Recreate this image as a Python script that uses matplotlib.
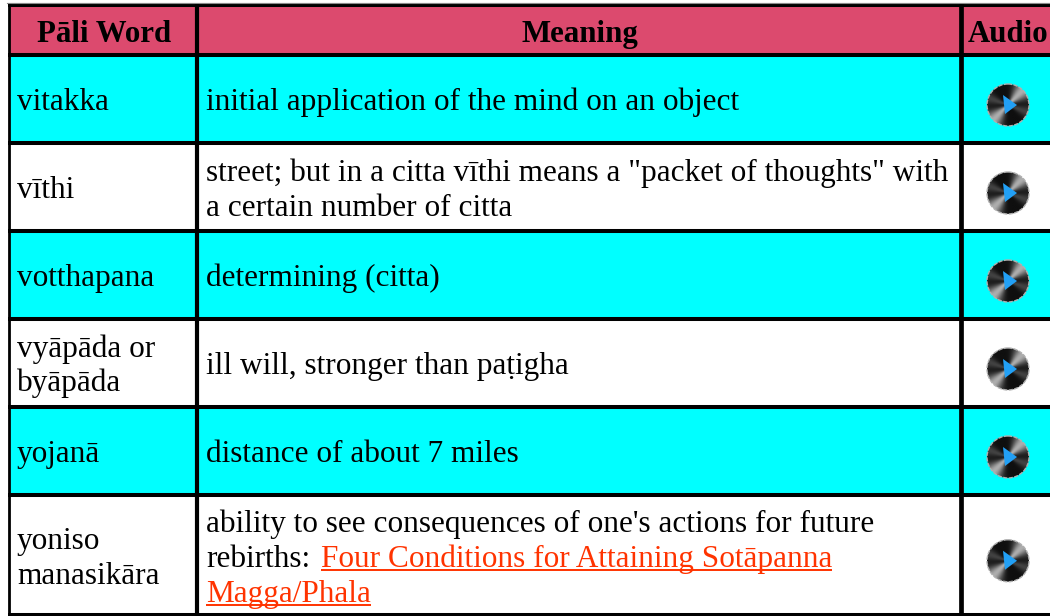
"""Pali glossary table, drawn in pixel coordinates."""

import numpy as np
import matplotlib
matplotlib.use('Agg')
import matplotlib.pyplot as plt
from matplotlib.patches import Rectangle, Circle, Polygon

plt.rcParams['font.family'] = ['Liberation Serif', 'DejaVu Serif']

headers = ['Pāli Word', 'Meaning', 'Audio']
words = [
    ['vitakka'],
    ['vīthi'],
    ['votthapana'],
    ['vyāpāda or', 'byāpāda'],
    ['yojanā'],
    ['yoniso', 'manasikāra'],
]
meanings = [
    ['initial application of the mind on an object'],
    ['street; but in a citta vīthi means a "packet of thoughts" with',
     'a certain number of citta'],
    ['determining (citta)'],
    ['ill will, stronger than paṭigha'],
    ['distance of about 7 miles'],
    ["ability to see consequences of one's actions for future"],
]
link_prefix = 'rebirths:'
link_lines = ['Four Conditions for Attaining Sotāpanna', 'Magga/Phala']

# layout in pixels
W, H = 1050, 616
col_edges = [8.8, 197, 960.5, 1050]
row_edges = [5.2, 55, 143, 231, 319, 407, 495, 614.5]
row_fills = ['#00ffff', '#ffffff'] * 3
HEAD = '#dc4a6e'
LINK = '#ff3300'
FS = 22.5
FS_HEAD = 22.2
LEADING = 35

fig = plt.figure(figsize=(W / 100, H / 100), dpi=100)
ax = fig.add_axes([0, 0, 1, 1])
ax.set_xlim(0, W)
ax.set_ylim(H, 0)
ax.axis('off')


def put_lines(x, y_mid, lines, **kw):
    # baselines of a block centred on y_mid
    first = y_mid + 11 - (len(lines) - 1) * LEADING / 2
    for i, line in enumerate(lines):
        ax.text(x, first + i * LEADING, line, fontsize=FS, va='baseline', **kw)


def draw_icon(cx, cy, r=21):
    # spinning disc icon: dark with a soft light band through upper right / lower left
    yy, xx = np.mgrid[-1:1:64j, -1:1:64j]
    ang = np.arctan2(-yy, xx)
    shade = 0.06 + 0.62 * np.abs(np.cos(ang - np.pi / 4)) ** 10
    shade += 0.2 * np.abs(np.cos(ang + np.pi / 9)) ** 24
    im = ax.imshow(np.clip(shade, 0, 1), cmap='gray', vmin=0, vmax=1,
                   extent=(cx - r, cx + r, cy + r, cy - r), zorder=3,
                   interpolation='bilinear', aspect='auto')
    disc = Circle((cx, cy), r, transform=ax.transData)
    im.set_clip_path(disc)
    ax.add_patch(Circle((cx, cy), r, fill=False, ec='#b0b0b0', lw=1.0,
                        ls=(0, (3, 1)), zorder=4))
    ax.add_patch(Polygon([(cx - 5, cy - 10), (cx + 9, cy), (cx - 3, cy + 9)],
                         fc='#22a0f5', ec='none', zorder=5))


# header fill and rows
ax.add_patch(Rectangle((col_edges[0], row_edges[0]), W - col_edges[0],
                       row_edges[1] - row_edges[0], fc=HEAD, ec='none'))
for i, fill in enumerate(row_fills):
    ax.add_patch(Rectangle((col_edges[0], row_edges[i + 1]), W - col_edges[0],
                           row_edges[i + 2] - row_edges[i + 1], fc=fill, ec='none'))

# grid lines
for y in row_edges:
    ax.plot([col_edges[0] - 1.2, W], [y, y], color='black', lw=2.9,
            solid_capstyle='butt', zorder=2)
ax.plot([7, W], [3.4, 3.4], color='#8a8a8a', lw=0.8, zorder=2)
ax.plot([col_edges[0]] * 2, [3.5, H], color='black', lw=2, solid_capstyle='butt', zorder=2)
ax.plot([col_edges[1]] * 2, [3.5, H], color='black', lw=3, solid_capstyle='butt', zorder=2)
ax.plot([col_edges[2]] * 2, [3.5, H], color='black', lw=3.4, solid_capstyle='butt', zorder=2)

# header text
ax.text(104.5, 42, headers[0], fontsize=FS_HEAD, fontweight='bold', ha='center', va='baseline')
ax.text(579.5, 42, headers[1], fontsize=FS_HEAD, fontweight='bold', ha='center', va='baseline')
ax.text(1008, 42, headers[2], fontsize=FS_HEAD, fontweight='bold', ha='center', va='baseline')

# body text and icons
for i in range(6):
    y_mid = (row_edges[i + 1] + row_edges[i + 2]) / 2
    put_lines(17, y_mid + (1 if i == 5 else 0), words[i])
    if i < 5:
        put_lines(206, y_mid, meanings[i])
    draw_icon(1008, y_mid + 6)

# last row: three lines, two of them a link
ax.text(206, 532, meanings[5][0], fontsize=FS, va='baseline')
ax.text(206, 567, link_prefix, fontsize=FS, va='baseline')
fig.canvas.draw()
renderer = fig.canvas.get_renderer()
for x, y, line in [(321, 567, link_lines[0]), (206, 602, link_lines[1])]:
    t = ax.text(x, y, line, fontsize=FS, color=LINK, va='baseline')
    box = t.get_window_extent(renderer)
    ax.plot([box.x0, box.x1], [y + 3, y + 3], color=LINK, lw=1.4, solid_capstyle='butt')

fig.savefig('out.png', dpi=100)
plt.close(fig)
